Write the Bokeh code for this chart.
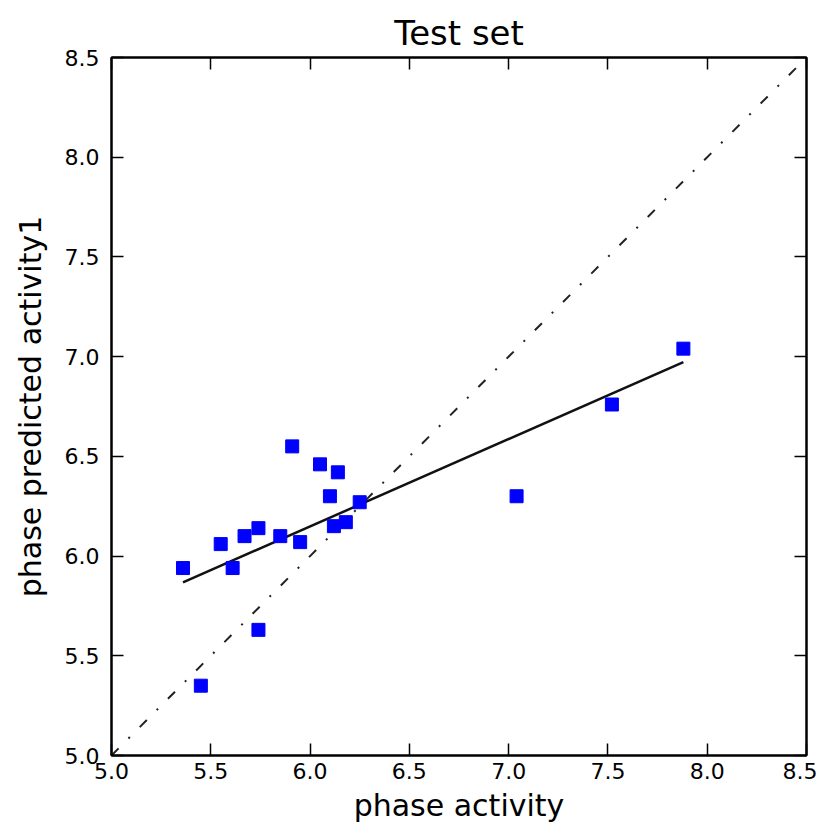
import numpy as np
from bokeh.plotting import figure
from bokeh.models import (LinearAxis, Range1d, FixedTicker, ColumnDataSource,
                          NumeralTickFormatter, CustomJSTickFormatter)
from bokeh.embed import file_html
from bokeh.resources import INLINE

# data
actual = [5.36, 5.45, 5.55, 5.61, 5.67, 5.74, 5.74, 5.85, 5.91, 5.95,
          6.05, 6.10, 6.12, 6.14, 6.18, 6.25, 7.04, 7.52, 7.88]
predicted = [5.94, 5.35, 6.06, 5.94, 6.10, 6.14, 5.63, 6.10, 6.55, 6.07,
             6.46, 6.30, 6.15, 6.42, 6.17, 6.27, 6.30, 6.76, 7.04]
ticks = [5.0, 5.5, 6.0, 6.5, 7.0, 7.5, 8.0, 8.5]
lo, hi = 5.0, 8.5

FONT = "DejaVu Sans"

p = figure(width=817, height=828, output_backend="svg", toolbar_location=None,
           x_range=Range1d(lo, hi), y_range=Range1d(lo, hi),
           x_axis_location=None, y_axis_location=None,
           min_border_left=111, min_border_right=11, min_border_top=57, min_border_bottom=73)
p.title.text = "Test set"
p.title.align = "center"
p.title.text_font = FONT
p.title.text_font_size = "34px"
p.title.text_font_style = "normal"
p.title.text_color = "black"
p.title.standoff = 10
p.grid.visible = False
p.outline_line_color = "black"
p.outline_line_width = 2
p.background_fill_color = "white"
p.border_fill_color = "white"

def mk_axis(label=None, show_labels=True, standoff=10, label_standoff=8):
    ax = LinearAxis(ticker=FixedTicker(ticks=ticks))
    ax.major_tick_in = 12
    ax.major_tick_out = 0
    ax.minor_tick_line_color = None
    ax.axis_line_width = 2
    ax.major_tick_line_width = 1.5
    ax.major_label_text_font = FONT
    ax.major_label_text_font_size = "22px"
    ax.major_label_text_color = "black"
    ax.major_label_standoff = standoff
    if show_labels:
        ax.formatter = NumeralTickFormatter(format="0.0")
    else:
        ax.formatter = CustomJSTickFormatter(code="return ''")
    if label:
        ax.axis_label = label
        ax.axis_label_text_font = FONT
        ax.axis_label_text_font_size = "30px"
        ax.axis_label_text_font_style = "normal"
        ax.axis_label_text_color = "black"
        ax.axis_label_standoff = label_standoff
    return ax

p.add_layout(mk_axis("phase activity", standoff=7, label_standoff=6), "below")
p.add_layout(mk_axis("phase predicted activity1", standoff=12, label_standoff=14), "left")
p.add_layout(mk_axis(show_labels=False, standoff=0), "above")
p.add_layout(mk_axis(show_labels=False, standoff=0), "right")

# identity line (dash-dot)
p.line([lo, hi], [lo, hi], line_color="#222222", line_width=2, line_dash="10 14 2 14")

# least-squares fit line
xa = np.array(actual)
ya = np.array(predicted)
m, b = np.polyfit(xa, ya, 1)
fx = np.array([xa.min(), xa.max()])
p.line(fx, m * fx + b, line_color="#111111", line_width=2.5)

src = ColumnDataSource(dict(x=actual, y=predicted))
p.scatter("x", "y", source=src, marker="square", size=13, fill_color="blue", line_color="blue")

open("out.html", "w").write(file_html(p, INLINE))
